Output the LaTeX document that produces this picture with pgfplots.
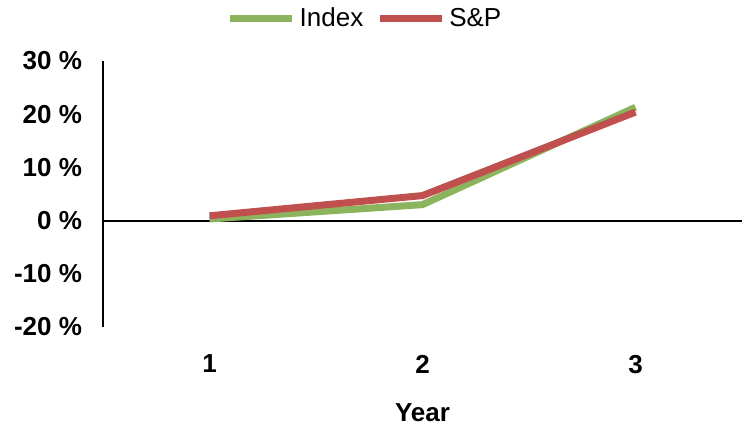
\documentclass[border=0pt]{standalone}
\usepackage{fontspec}
\setmainfont{Liberation Sans}
\usepackage{pgfplots}
\pgfplotsset{compat=1.18}
\definecolor{idxgreen}{HTML}{8CB45E}
\definecolor{spred}{HTML}{C0504D}
\begin{document}
\begin{tikzpicture}
\begin{axis}[
  name=ax,
  scale only axis,
  width=319.5pt, height=133pt,
  xmin=0.5, xmax=3.5,
  ymin=-20, ymax=30,
  font=\fontsize{13}{15.5}\selectfont,
  axis y line=left,
  axis x line=bottom,
  x axis line style={draw=none},
  y axis line style={-, line width=1pt},
  major tick length=0pt,
  xtick={1,2,3},
  xticklabels={1,2,3},
  ytick={-20,-10,0,10,20,30},
  yticklabels={-20 \%,-10 \%,0 \%,10 \%,20 \%,30 \%},
  ticklabel style={font=\fontsize{13}{15.5}\selectfont\bfseries},
  x tick label style={yshift=-10.5pt},
  y tick label style={xshift=-7pt},
  xlabel={\textbf{Year}},
  xlabel style={at={(axis description cs:0.5,0)}, anchor=north, yshift=-35pt},
  legend style={at={(0.4116,1.158)}, anchor=center, draw=none, fill=none,
    legend columns=2, font=\fontsize{13}{15.5}\selectfont,
    /tikz/every even column/.append style={column sep=4.5pt}},
  legend image code/.code={\draw[#1] (0pt,0pt) -- (31pt,0pt);},
  clip=false,
]
\draw[black, line width=1pt] (axis cs:0.5,0) -- (axis cs:3.5,0);
\addplot[idxgreen, line width=3.5pt] coordinates {(1,0.3) (2,3.0) (3,21.3)};
\addlegendentry{Index}
\addplot[spred, line width=3.5pt] coordinates {(1,0.9) (2,4.7) (3,20.4)};
\addlegendentry{S\&P}
\coordinate (bl) at (rel axis cs:0,0);
\coordinate (tr) at (rel axis cs:1,1);
\end{axis}
\pgfresetboundingbox
\path[use as bounding box] ([xshift=-51.5pt,yshift=-49pt]bl) rectangle ([xshift=3.5pt,yshift=30.5pt]tr);
\end{tikzpicture}
\end{document}
